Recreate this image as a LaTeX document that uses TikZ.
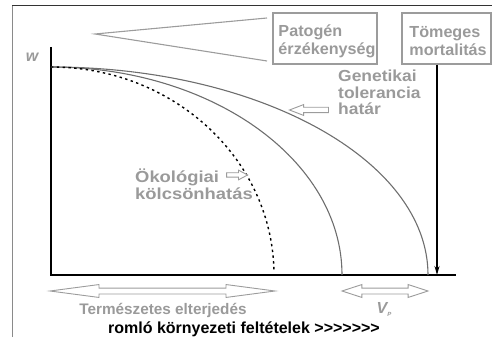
\documentclass[tikz,border=0pt]{standalone}
\usepackage{fontspec}
\setmainfont{Liberation Sans}
\newfontfamily\widesans[FakeStretch=1.15]{Liberation Sans}
\newfontfamily\midsans[FakeStretch=1.09]{Liberation Sans}
\newfontfamily\boxsans[FakeStretch=1.01]{Liberation Sans}
\usetikzlibrary{shapes.arrows,arrows.meta}
\definecolor{txtgray}{HTML}{9A9A9A}
\definecolor{curvegray}{HTML}{6E6E6E}
\definecolor{boxgray}{HTML}{9C9C9C}
\definecolor{framegray}{HTML}{8A8A8A}
\def\chev{>\kern0pt}

\begin{document}
\begin{tikzpicture}[x=1pt,y=1pt,
  lbl/.style={text=txtgray, inner sep=0pt, align=left},
  infobox/.style={draw=boxgray, line width=1.1pt, minimum height=51pt, inner sep=0pt},
  boxtext/.style={lbl, font=\boxsans\fontsize{16}{18}\selectfont\bfseries},
  curve/.style={draw=curvegray, line width=1.1pt},
  axisline/.style={draw=black, line width=1.4pt},
  hollowtwo/.style={double arrow, draw=boxgray, fill=white, line width=0.9pt,
    inner xsep=0pt, inner ysep=2.5pt, double arrow head extend=3.5pt},
  hollowone/.style={single arrow, draw=boxgray, fill=white, line width=0.9pt,
    inner xsep=0pt},
]
\useasboundingbox (0,0) rectangle (494,337);

% outer frame (left and top edges)
\draw[framegray, line width=1pt] (12,0) -- (12,331);
\draw[black!80, line width=1pt] (12,331) -- (492,331);

% axes
\coordinate (origin) at (51,62);
\coordinate (ytop) at (51,290);
\coordinate (xend) at (456,62);
\draw[axisline] (ytop) -- (origin) -- (xend);
\node[font=\fontsize{16}{17}\selectfont\bfseries\itshape, text=txtgray, inner sep=0pt, anchor=base]
  (wlab) at (32,275) {w};

% fitness curves (quarter ellipses about the origin)
\draw[curve] (51,270) arc[start angle=90, end angle=0, x radius=377pt, y radius=208pt];
\draw[curve] (51,270) arc[start angle=90, end angle=0, x radius=291pt, y radius=208pt];
\draw[black, line width=1.4pt, dash pattern=on 2.4pt off 3.4pt]
  (51,270) arc[start angle=90, end angle=1, x radius=223pt, y radius=208pt];

% boxes and their captions
\node[infobox, minimum width=104pt] (patbox) at (325,298.5) {};
\node[boxtext] (pat) at ([xshift=2pt,yshift=-2.5pt]patbox.center) {Patogén\\érzékenység};
\node[infobox, minimum width=89pt] (tombox) at (446.5,298.5) {};
\node[boxtext] (tom) at ([xshift=1.5pt,yshift=-2.5pt]tombox.center) {Tömeges\\mortalitás};

% wedge pointing to the pathogen box
\coordinate (apex) at (95,303);
\coordinate (wup) at (267,319);
\coordinate (wlow) at (267,276);
\draw[boxgray, line width=1.1pt] (wup) -- (apex) -- (wlow);

% mass mortality arrow
\coordinate (mx) at (437,0);
\draw[black, line width=1.2pt, -{Stealth[length=9pt,width=5pt]}] (tombox.south -| mx) -- (mx |- origin);

% labels with hollow pointers
\node[lbl, font=\midsans\fontsize{16}{16.5}\selectfont\bfseries, anchor=north west]
  (gen) at (338,267) {Genetikai\\tolerancia\\határ};
\node[hollowone, shape border rotate=180, minimum height=39pt, inner ysep=2.25pt,
  single arrow head extend=2.75pt, single arrow tip angle=42] (genarr) at (312.5,227) {};

\node[lbl, font=\widesans\fontsize{16}{16.5}\selectfont\bfseries, anchor=north west]
  (oko) at (135,168) {Ökológiai\\kölcsönhatás};
\node[hollowone, minimum height=21pt, inner ysep=1.75pt,
  single arrow head extend=2.6pt, single arrow tip angle=56] (okoarr) at (235,162) {};

% ranges below the axis
\node[hollowtwo, minimum height=225pt, double arrow tip angle=15] (natarr) at (162.5,46) {};
\node[hollowtwo, minimum height=86pt, double arrow tip angle=36] (vparr) at (385,46) {};

\node[font=\fontsize{15.3}{17}\selectfont\bfseries, text=txtgray, inner sep=0pt, anchor=base]
  (term) at (163,23) {Természetes elterjedés};
\node[font=\fontsize{16}{17}\selectfont\bfseries\itshape, text=txtgray, inner sep=0pt, anchor=base]
  (vp) at (384,24) {V\raisebox{-0.4ex}{\fontsize{6}{6}\selectfont P}};
\node[font=\fontsize{16}{17}\selectfont\bfseries, text=black, inner sep=0pt, anchor=base]
  (romlo) at (244,4) {romló környezeti feltételek \chev\chev\chev\chev\chev\chev>};
\end{tikzpicture}
\end{document}
